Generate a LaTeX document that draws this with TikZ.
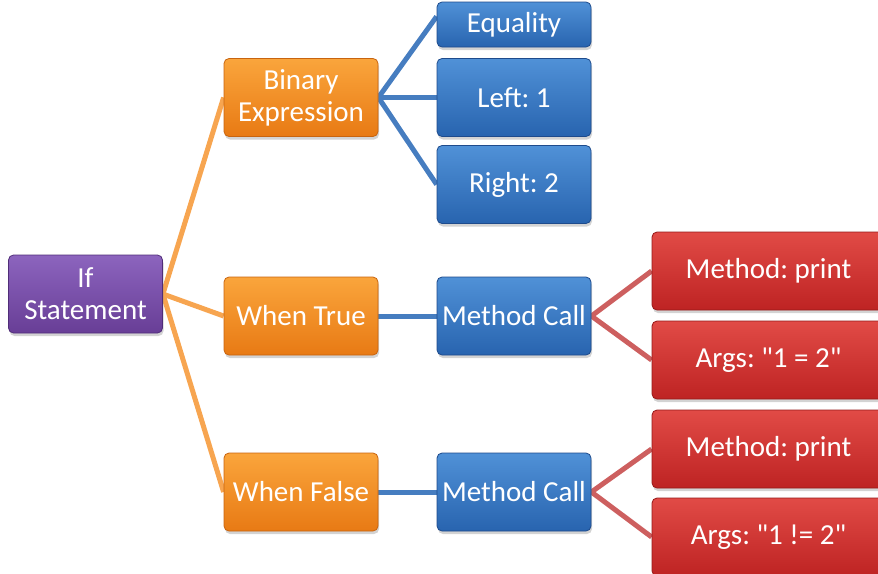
\documentclass[tikz,border=0pt]{standalone}
\usepackage{fontspec}
\setmainfont{Carlito}[Ligatures=TeXOff]
\usetikzlibrary{shadows,backgrounds}
\definecolor{purpT}{RGB}{140,100,190}
\definecolor{purpB}{RGB}{104,62,150}
\definecolor{purpD}{RGB}{80,45,120}
\definecolor{orT}{RGB}{250,165,60}
\definecolor{orB}{RGB}{232,122,20}
\definecolor{orD}{RGB}{200,100,15}
\definecolor{blT}{RGB}{80,145,215}
\definecolor{blB}{RGB}{40,100,175}
\definecolor{blD}{RGB}{30,75,140}
\definecolor{rdT}{RGB}{225,75,70}
\definecolor{rdB}{RGB}{190,35,35}
\definecolor{rdD}{RGB}{150,25,25}
\definecolor{orL}{RGB}{247,165,80}
\definecolor{blL}{RGB}{70,125,192}
\definecolor{rdL}{RGB}{205,95,95}
\begin{document}
\frenchspacing
\begin{tikzpicture}[x=1pt,y=-1pt,
  box/.style={rounded corners=5pt, minimum width=154pt, minimum height=78pt,
    text=white, align=center, inner sep=0pt,
    font=\fontsize{29}{32}\selectfont, line width=0.8pt,
    drop shadow={opacity=0.35, shadow xshift=1pt, shadow yshift=-3pt}},
  pbox/.style={box, top color=purpT, bottom color=purpB, draw=purpD},
  obox/.style={box, top color=orT, bottom color=orB, draw=orD},
  bbox/.style={box, top color=blT, bottom color=blB, draw=blD},
  rbox/.style={box, minimum width=233pt, top color=rdT, bottom color=rdB, draw=rdD},
  oline/.style={draw=orL, line width=5pt},
  bline/.style={draw=blL, line width=5pt},
  rline/.style={draw=rdL, line width=5pt}]
\useasboundingbox (0,0) rectangle (878,573);
\clip (0,0) rectangle (878,573);
\node[pbox] (if) at (85.5,294) {If\\Statement};
\node[obox] (bin) at (301,97.5) {Binary\\Expression};
\node[obox] (wt) at (301,316) {When True};
\node[obox] (wf) at (301,492) {When False};
\node[bbox, minimum height=45pt] (eq) at (514,24.5) {Equality};
\node[bbox] (left) at (514,97.5) {Left: 1};
\node[bbox] (right) at (514,184.5) {Right: 2};
\node[bbox] (mc1) at (514,316) {Method Call};
\node[bbox] (mc2) at (514,492) {Method Call};
\node[rbox] (mp1) at (768.5,271) {Method: print};
\node[rbox] (a1) at (768.5,360) {Args: "1 = 2"};
\node[rbox] (mp2) at (768.5,449) {Method: print};
\node[rbox] (a2) at (768.5,537) {Args: "1 != 2"};
\begin{scope}[on background layer]
\draw[oline] (if.east) -- (bin.west);
\draw[oline] (if.east) -- (wt.west);
\draw[oline] (if.east) -- (wf.west);
\draw[bline] (bin.east) -- ([yshift=8pt]eq.west);
\draw[bline] (bin.east) -- (left.west);
\draw[bline] (bin.east) -- (right.west);
\draw[bline] (wt.east) -- (mc1.west);
\draw[bline] (wf.east) -- (mc2.west);
\draw[rline] (mc1.east) -- (mp1.west);
\draw[rline] (mc1.east) -- (a1.west);
\draw[rline] (mc2.east) -- (mp2.west);
\draw[rline] (mc2.east) -- (a2.west);
\end{scope}
\end{tikzpicture}
\end{document}
